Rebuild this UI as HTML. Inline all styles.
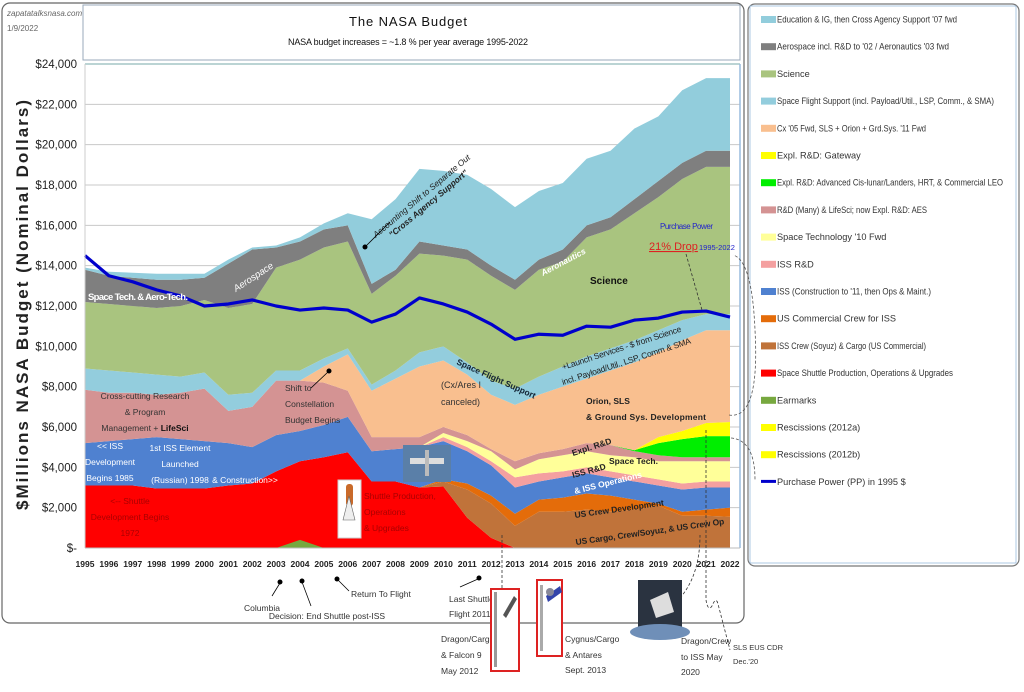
<!DOCTYPE html>
<html><head><meta charset="utf-8">
<style>
html,body{margin:0;padding:0;background:#fff;}
svg{display:block;font-family:"Liberation Sans",sans-serif;}
</style></head><body>
<svg id="s" width="1024" height="692" viewBox="0 0 1024 692" xmlns="http://www.w3.org/2000/svg">
<rect x="0" y="0" width="1024" height="692" fill="#fff"/>
<rect x="2" y="3" width="742" height="620" rx="8" fill="#fff" stroke="#666" stroke-width="1.2"/>
<rect x="83" y="5" width="657" height="55" fill="#fff" stroke="#9ab" stroke-width="1"/>
<rect x="748" y="4" width="271" height="562" rx="7" fill="#fff" stroke="#777" stroke-width="1.2"/>
<rect x="750" y="6" width="266" height="557" fill="none" stroke="#9bd" stroke-width="0.8"/>
<g id="grid" stroke="#c8c8c8" stroke-width="1"></g>
<g id="areas"></g>
<g id="line"></g>
<line x1="85" y1="64" x2="740" y2="64" stroke="#7aa" stroke-width="1"/>
<line x1="85" y1="64" x2="85" y2="548" stroke="#ccc" stroke-width="1"/>
<line x1="740" y1="64" x2="740" y2="548" stroke="#9bd" stroke-width="1.5"/>
<line x1="85" y1="548" x2="740" y2="548" stroke="#bbb" stroke-width="1"/>
<g id="ylab" font-size="11.5" fill="#222" text-anchor="end"></g>
<g id="xlab" font-size="8.5" fill="#222" text-anchor="middle" font-weight="bold"></g>

<text x="7" y="16" font-size="8" font-style="italic" fill="#666">zapatatalksnasa.com</text>
<text x="7" y="31" font-size="8" fill="#666">1/9/2022</text>
<text x="408" y="26" font-size="13" text-anchor="middle" fill="#111" textLength="118">The NASA Budget</text>
<text x="408" y="45" font-size="9" text-anchor="middle" fill="#111" textLength="240">NASA budget increases = ~1.8 % per year average 1995-2022</text>
<text transform="translate(28,305) rotate(-90)" font-size="17" font-weight="bold" text-anchor="middle" fill="#222" textLength="410" lengthAdjust="spacing">$Millions NASA Budget (Nominal Dollars)</text>

<text x="88" y="300" font-size="9.5" font-weight="bold" fill="#fff" textLength="100">Space Tech. &amp; Aero-Tech.</text>
<text transform="translate(236,292) rotate(-33)" font-size="9.5" font-style="italic" fill="#fff">Aerospace</text>
<text transform="translate(376,238) rotate(-40)" font-size="8.5" font-style="italic" fill="#222">Accounting Shift to Separate Out</text>
<text transform="translate(392,238) rotate(-40)" font-size="8.5" font-style="italic" font-weight="bold" fill="#222">"Cross Agency Support"</text>
<circle cx="365" cy="247" r="2.5" fill="#000"/><line x1="366" y1="246" x2="390" y2="222" stroke="#000" stroke-width="0.8"/>
<text transform="translate(543,276) rotate(-28)" font-size="8.5" font-style="italic" font-weight="bold" fill="#fff">Aeronautics</text>
<text x="590" y="284" font-size="10" font-weight="bold" fill="#111">Science</text>
<text x="660" y="229" font-size="8" fill="#22c" textLength="53">Purchase Power</text>
<text x="649" y="250" font-size="11" fill="#d22" text-decoration="underline">21% Drop</text>
<text x="699" y="250" font-size="7.5" fill="#22c">1995-2022</text>
<line x1="686" y1="254" x2="702" y2="310" stroke="#333" stroke-width="0.8" stroke-dasharray="3,2"/>
<text transform="translate(563,370) rotate(-18)" font-size="8.5" fill="#222" textLength="125">+Launch Services - $ from Science</text>
<text transform="translate(563,385) rotate(-18)" font-size="8.5" fill="#222" textLength="135">incl. Payload/Util., LSP, Comm &amp; SMA</text>
<text transform="translate(456,364) rotate(24)" font-size="8.5" font-weight="bold" fill="#123">Space Flight Support</text>
<text x="441" y="388" font-size="9" fill="#333">(Cx/Ares I</text>
<text x="441" y="405" font-size="9" fill="#333">canceled)</text>
<text x="586" y="404" font-size="8.5" font-weight="bold" fill="#222">Orion, SLS</text>
<text x="586" y="420" font-size="8.5" font-weight="bold" fill="#222" textLength="120">&amp; Ground Sys. Development</text>
<text transform="translate(573,456) rotate(-18)" font-size="8.5" font-weight="bold" fill="#222">Expl. R&amp;D</text>
<text x="609" y="464" font-size="8.5" font-weight="bold" fill="#222">Space Tech.</text>
<text transform="translate(573,478) rotate(-15)" font-size="8.5" font-weight="bold" fill="#222">ISS R&amp;D</text>
<text transform="translate(575,494) rotate(-14)" font-size="8.5" font-weight="bold" fill="#fff">&amp; ISS Operations</text>
<text transform="translate(575,518) rotate(-8)" font-size="8.5" font-weight="bold" fill="#222" textLength="90">US Crew Development</text>
<text transform="translate(576,545) rotate(-8)" font-size="8.5" font-weight="bold" fill="#222" textLength="150">US Cargo, Crew/Soyuz, &amp; US Crew  Op</text>

<g font-size="8.5" text-anchor="middle" fill="#333">
<text x="145" y="399">Cross-cutting Research</text>
<text x="145" y="415">&amp; Program</text>
<text x="145" y="431">Management + <tspan font-weight="bold" fill="#111">LifeSci</tspan></text>
<text x="285" y="391" text-anchor="start">Shift to</text>
<text x="285" y="407" text-anchor="start">Constellation</text>
<text x="285" y="423" text-anchor="start">Budget Begins</text>
</g>
<circle cx="329" cy="371" r="2.5" fill="#000"/><line x1="328" y1="372" x2="311" y2="388" stroke="#000" stroke-width="0.8"/>
<g font-size="8.5" fill="#fff" text-anchor="middle">
<text x="110" y="449">&lt;&lt; ISS</text><text x="110" y="465">Development</text><text x="110" y="481">Begins 1985</text>
<text x="180" y="451">1st ISS Element</text><text x="180" y="467">Launched</text><text x="180" y="483">(Russian) 1998</text>
<text x="245" y="483">&amp; Construction&gt;&gt;</text>
</g>
<g font-size="8.5" fill="#a00" text-anchor="middle">
<text x="130" y="504">&lt;-- Shuttle</text><text x="130" y="520">Development Begins</text><text x="130" y="536">1972</text>
<text x="364" y="499" text-anchor="start">Shuttle Production,</text><text x="364" y="515" text-anchor="start">Operations</text><text x="364" y="531" text-anchor="start">&amp; Upgrades</text>
</g>
<rect x="338" y="480" width="23" height="58" fill="#fff" stroke="#ccc"/>
<rect x="346" y="484" width="7" height="22" rx="3" fill="#c96a2a"/>
<path d="M343 520 L349 496 L355 520 Z" fill="#eee" stroke="#666" stroke-width="0.6"/>
<rect x="403" y="445" width="48" height="37" fill="#5a7fa8"/>
<rect x="410" y="458" width="34" height="6" fill="#ddd"/><rect x="425" y="450" width="4" height="26" fill="#bbb"/>

<g font-size="8.5" fill="#333">
<circle cx="280" cy="582" r="2.5" fill="#000"/><line x1="280" y1="583" x2="272" y2="596" stroke="#000" stroke-width="0.8"/>
<text x="262" y="611" text-anchor="middle">Columbia</text>
<circle cx="302" cy="581" r="2.5" fill="#000"/><line x1="302" y1="582" x2="311" y2="606" stroke="#000" stroke-width="0.8"/>
<text x="327" y="619" text-anchor="middle">Decision: End Shuttle post-ISS</text>
<circle cx="337" cy="579" r="2.5" fill="#000"/><line x1="338" y1="580" x2="349" y2="591" stroke="#000" stroke-width="0.8"/>
<text x="351" y="597">Return To Flight</text>
<circle cx="479" cy="578" r="2.5" fill="#000"/><line x1="478" y1="579" x2="460" y2="587" stroke="#000" stroke-width="0.8"/>
<text x="449" y="602">Last Shuttle</text><text x="449" y="617">Flight 2011</text>
<text x="441" y="642">Dragon/Cargo</text><text x="441" y="658">&amp; Falcon 9</text><text x="441" y="674">May 2012</text>
<text x="565" y="642">Cygnus/Cargo</text><text x="565" y="658">&amp; Antares</text><text x="565" y="673">Sept. 2013</text>
<text x="681" y="644">Dragon/Crew</text><text x="681" y="660">to ISS May</text><text x="681" y="675">2020</text>
<text x="733" y="650" font-size="7.5">SLS EUS CDR</text><text x="733" y="664" font-size="7.5">Dec.'20</text>
</g>
<line x1="502" y1="535" x2="502" y2="590" stroke="#333" stroke-width="0.8" stroke-dasharray="3,2"/>
<rect x="491" y="589" width="28" height="82" fill="#fff" stroke="#d22" stroke-width="2"/>
<rect x="494" y="592" width="3" height="75" fill="#999"/>
<path d="M503 615 L514 596 L517 599 L506 618 Z" fill="#555"/>
<rect x="537" y="580" width="25" height="76" fill="#fff" stroke="#d22" stroke-width="2"/>
<rect x="540" y="585" width="3" height="66" fill="#aaa"/>
<path d="M546 596 L560 586 L562 592 L548 602 Z" fill="#3344aa"/><circle cx="550" cy="592" r="4" fill="#889"/>
<rect x="638" y="580" width="44" height="56" fill="#2a3340"/>
<ellipse cx="660" cy="632" rx="30" ry="8" fill="#6f8fb8"/>
<path d="M650 600 L668 592 L674 612 L656 618 Z" fill="#ddd"/>
<path d="M680 598 Q700 575 700 535" fill="none" stroke="#333" stroke-width="0.8" stroke-dasharray="3,2"/>
<path d="M706 430 L706 600 Q708 612 712 606 Q716 596 718 604 L730 650" fill="none" stroke="#333" stroke-width="0.8" stroke-dasharray="3,2"/>
<path d="M729 415 Q760 420 755 330 Q752 260 733 255" fill="none" stroke="#555" stroke-width="0.8" stroke-dasharray="3,2"/>
<path d="M731 438 Q755 440 755 480" fill="none" stroke="#555" stroke-width="0.8" stroke-dasharray="3,2"/>

<g id="legend" font-size="9.2" fill="#333"></g>
<script>
(function(){
var NS="http://www.w3.org/2000/svg";
function X(i){return 85+i*645/27;}
function Y(v){return 548-v*20.1667;}
function el(p,t,a,txt){var e=document.createElementNS(NS,t);for(var k in a)e.setAttribute(k,a[k]);if(txt!=null)e.textContent=txt;document.getElementById(p).appendChild(e);return e;}
var yl=["$-","$2,000","$4,000","$6,000","$8,000","$10,000","$12,000","$14,000","$16,000","$18,000","$20,000","$22,000","$24,000"];
for(var k=0;k<=12;k++){var y=Y(2*k);if(k>0)el("grid","line",{x1:85,x2:740,y1:y,y2:y});el("ylab","text",{x:77,y:y+4},yl[k]);}
for(var i=0;i<28;i++)el("xlab","text",{x:X(i),y:567,textLength:19,lengthAdjust:"spacingAndGlyphs"},String(1995+i));
var L=[
["#ff0000",[3.1,3.1,3.1,2.95,2.95,2.95,3.1,3.2,3.8,4.3,4.5,4.75,3.3,3.3,3.0,3.05,1.5,0.5,0,0,0,0,0,0,0,0,0,0]],
["#c0733a",[0,0,0,0,0,0,0,0,0,0,0,0,0,0,3.0,3.3,2.9,2.2,1.1,1.8,1.8,1.9,1.8,1.9,2.1,1.6,1.6,1.55]],
["#e46c0a",[0,0,0,0,0,0,0,0,0,0,0,0,0,0,3.0,3.4,3.2,2.6,1.7,2.4,2.5,2.7,2.6,2.4,2.2,1.8,1.9,2.0]],
["#4f81d0",[5.2,5.3,5.4,5.5,5.4,5.3,5.2,5.0,5.6,5.8,6.1,6.5,4.8,4.9,5.0,5.3,4.8,4.1,3.0,3.3,3.5,3.7,3.5,3.3,3.1,2.9,3.0,3.0]],
["#f4a0a0",[0,0,0,0,0,0,0,0,0,0,0,0,0,0,5.0,5.5,5.0,4.3,3.5,3.7,3.8,4.0,3.8,3.6,3.4,3.2,3.3,3.3]],
["#ffff99",[0,0,0,0,0,0,0,0,0,0,0,0,0,0,5.0,5.7,5.3,4.8,3.9,4.4,4.6,4.8,4.6,4.5,4.3,4.3,4.3,4.3]],
["#d49393",[7.85,7.7,7.7,7.6,7.7,7.9,6.8,7.0,8.3,8.3,8.2,7.8,5.5,5.5,5.5,6.0,5.6,4.9,4.3,4.7,4.9,5.2,5.1,4.8,4.6,4.5,4.5,4.5]],
["#00ee00",[0,0,0,0,0,0,0,0,0,0,0,0,0,0,0,0,0,0,0,0,0,0,0,4.85,5.2,5.4,5.55,5.55]],
["#ffff00",[0,0,0,0,0,0,0,0,0,0,0,0,0,0,0,0,0,0,0,0,0,0,0,4.85,5.5,5.8,6.2,6.25]],
["#f9bf8f",[0,0,0,0,0,0,0,0,0,8.3,9.0,9.6,7.8,8.4,9.0,9.3,8.6,7.6,7.1,7.6,8.0,8.4,8.8,9.2,9.7,10.3,10.8,10.8]],
["#93cddd",[8.9,8.8,8.7,8.6,8.5,8.7,7.6,7.7,8.8,8.8,9.4,9.9,8.1,8.8,9.7,10.0,9.2,8.3,7.9,8.5,9.0,9.5,9.9,10.3,10.8,11.3,11.6,11.6]],
["#a9c47f",[12.2,12.1,12.0,11.9,12.0,12.3,11.9,12.1,13.9,14.3,14.9,15.2,12.6,13.5,14.6,14.5,14.3,13.5,12.8,13.8,14.2,15.4,15.8,16.6,17.4,18.3,18.9,18.9]],
["#7f7f7f",[13.8,13.5,13.4,13.3,13.3,13.4,14.1,14.8,14.9,15.2,15.8,16.0,13.1,13.8,15.2,15.0,14.8,14.0,13.3,14.3,14.8,16.0,16.4,17.3,18.2,19.1,19.7,19.7]],
["#92cddc",[13.9,13.7,13.65,13.6,13.6,13.6,14.3,14.9,15.0,15.4,16.1,16.6,16.3,17.3,18.8,18.7,18.5,17.8,16.9,17.7,18.1,19.3,19.7,20.8,21.4,22.7,23.3,23.3]]
];
var prev=[];for(i=0;i<28;i++)prev.push(0);
L.forEach(function(l){
 var top=[];for(var i=0;i<28;i++)top.push(Math.max(l[1][i],prev[i]));
 var d="M"+X(0)+","+Y(top[0]);
 for(i=1;i<28;i++)d+=" L"+X(i)+","+Y(top[i]);
 for(i=27;i>=0;i--)d+=" L"+X(i)+","+Y(prev[i]);
 el("areas","path",{d:d+"Z",fill:l[0]});
 prev=top;
});
el("areas","path",{d:"M"+X(8)+","+Y(0)+" L"+X(9)+","+Y(0.4)+" L"+X(10)+","+Y(0)+"Z",fill:"#77a83f"});
var pp=[14.5,13.5,13.2,12.8,12.5,12.0,12.1,12.3,12.0,11.8,11.9,11.8,11.2,11.6,12.4,12.1,11.7,11.1,10.35,10.6,10.55,11.0,10.95,11.3,11.4,11.7,11.75,11.45];
var d="";for(i=0;i<28;i++)d+=(i?" L":"M")+X(i)+","+Y(pp[i]);
el("line","path",{d:d,fill:"none",stroke:"#0000cc","stroke-width":3.2,"stroke-linejoin":"round"});
var leg=[["#92cddc","Education & IG, then Cross Agency Support '07 fwd"],["#7f7f7f","Aerospace incl. R&D to '02 / Aeronautics '03 fwd"],["#a9c47f","Science"],["#93cddd","Space Flight Support (incl. Payload/Util., LSP, Comm., & SMA)"],["#f9bf8f","Cx '05 Fwd, SLS + Orion + Grd.Sys. '11 Fwd"],["#ffff00","Expl. R&D: Gateway"],["#00ee00","Expl. R&D: Advanced Cis-lunar/Landers, HRT, & Commercial LEO"],["#d49393","R&D (Many) & LifeSci; now Expl. R&D: AES"],["#ffff99","Space Technology '10 Fwd"],["#f4a0a0","ISS R&D"],["#4f81d0","ISS (Construction to '11, then Ops & Maint.)"],["#e46c0a","US Commercial Crew for ISS"],["#c0733a","ISS Crew (Soyuz) & Cargo (US Commercial)"],["#ff0000","Space Shuttle Production, Operations & Upgrades"],["#77a83f","Earmarks"],["#ffff00","Rescissions (2012a)"],["#ffff00","Rescissions (2012b)"],["line","Purchase Power (PP) in 1995 $"]];
var lens={0:180,1:172,3:217,4:149,6:226,7:150,10:154,12:149,13:176};
leg.forEach(function(g,k){var y=19+k*27.2;
 if(g[0]=="line")el("legend","line",{x1:761,x2:776,y1:y,y2:y,stroke:"#0000cc","stroke-width":3});
 else el("legend","rect",{x:761,y:y-3,width:15,height:7,fill:g[0]});
 var a={x:777,y:y+3.5};if(lens[k]){a.textLength=lens[k];a.lengthAdjust="spacingAndGlyphs";}
 el("legend","text",a,g[1]);});
})();
</script>
</svg>
</body></html>
